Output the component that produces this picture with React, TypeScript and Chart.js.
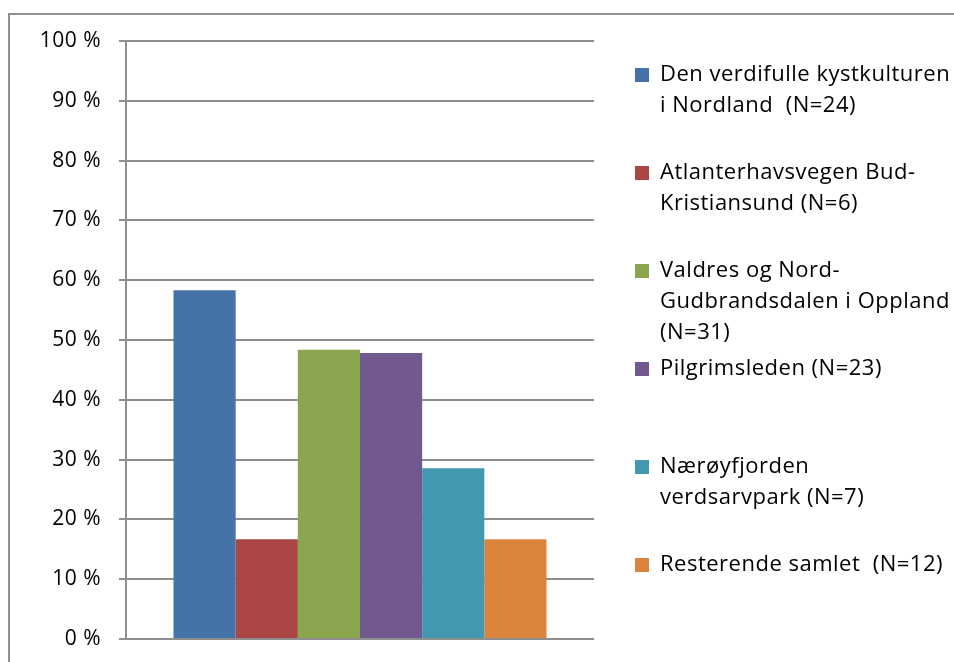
import React, { useEffect, useRef } from "react";
import { Chart, registerables } from "chart.js";

Chart.register(...registerables);

const CATEGORIES = [""];
const SERIES_LABELS = [
  "Den verdifulle kystkulturen i Nordland  (N=24)",
  "Atlanterhavsvegen Bud-Kristiansund (N=6)",
  "Valdres og Nord-Gudbrandsdalen i Oppland (N=31)",
  "Pilgrimsleden (N=23)",
  "Nærøyfjorden verdsarvpark (N=7)",
  "Resterende samlet  (N=12)",
];
const LEGEND_LINES = [
  ["Den verdifulle kystkulturen", "i Nordland  (N=24)", ""],
  ["Atlanterhavsvegen Bud-", "Kristiansund (N=6)", ""],
  ["Valdres og Nord-", "Gudbrandsdalen i Oppland", "(N=31)"],
  ["Pilgrimsleden (N=23)", "", ""],
  ["Nærøyfjorden", "verdsarvpark (N=7)", ""],
  ["Resterende samlet  (N=12)", ""],
];
const SERIES_VALUES = [58.33, 16.67, 48.39, 47.83, 28.57, 16.67];
const SERIES_COLORS = ["#4572A7", "#AA4643", "#89A54E", "#71588F", "#4198AF", "#DB843D"];
const Y_TICKS = [0, 10, 20, 30, 40, 50, 60, 70, 80, 90, 100];

const FONT = "'Open Sans', Lato, sans-serif";
const GRID = "#8e8e8e";
const LEGEND_WIDTH = 324;

const layoutPlugin = {
  id: "layoutFix",
  afterInit(chart: any) {
    (chart.ctx as any).letterSpacing = "0.5px";
  },
  beforeUpdate(chart: any) {
    (chart.ctx as any).letterSpacing = "0.5px";
  },
  beforeLayout(chart: any) {
    const lg = chart.legend;
    if (lg && !lg.__fixed) {
      const orig = lg.fit.bind(lg);
      lg.fit = function () {
        orig();
        this.width = LEGEND_WIDTH;
      };
      lg.__fixed = true;
    }
  },
};

export default function App() {
  const ref = useRef<HTMLCanvasElement | null>(null);

  useEffect(() => {
    const canvas = ref.current;
    if (!canvas) return;
    const chart = new Chart(canvas, {
      type: "bar",
      data: {
        labels: CATEGORIES,
        datasets: SERIES_VALUES.map((v, i) => ({
          label: SERIES_LABELS[i],
          data: [v],
          backgroundColor: SERIES_COLORS[i],
          borderWidth: 0,
          categoryPercentage: 0.797,
          barPercentage: 1,
        })),
      },
      plugins: [layoutPlugin],
      options: {
        responsive: false,
        animation: false,
        devicePixelRatio: 1,
        layout: { padding: { top: 26, bottom: 8, left: 0, right: 0 } },
        plugins: {
          tooltip: { enabled: false },
          legend: {
            position: "right",
            align: "center",
            labels: {
              boxWidth: 14,
              boxHeight: 14,
              padding: 5,
              color: "#000",
              font: { family: FONT, size: 22, lineHeight: 31 / 22 },
              generateLabels: (c: any) => {
                const items = Chart.defaults.plugins.legend.labels.generateLabels(c);
                return items.map((it: any, i: number) => ({
                  ...it,
                  text: LEGEND_LINES[i],
                  lineWidth: 0,
                  strokeStyle: "rgba(0,0,0,0)",
                }));
              },
            },
          },
        },
        scales: {
          x: {
            type: "category",
            display: false,
          },
          y: {
            type: "linear",
            min: 0,
            max: 100,
            afterFit: (s: any) => {
              s.width = 116;
              s.paddingTop = 0;
              s.paddingBottom = 0;
            },
            afterBuildTicks: (s: any) => {
              s.ticks = Y_TICKS.map((v) => ({ value: v }));
            },
            grid: {
              color: GRID,
              lineWidth: 2,
              tickLength: 7,
              drawTicks: true,
            },
            border: { display: true, color: GRID, width: 2 },
            ticks: {
              color: "#000",
              padding: 18,
              font: { family: FONT, size: 21 },
              callback: (v: any) => `${v} %`,
            },
          },
          yR: {
            type: "linear",
            position: "right",
            display: true,
            grid: { display: false },
            border: { display: false },
            ticks: { display: false },
            afterFit: (s: any) => {
              s.width = 36;
            },
          },
        },
      },
    } as any);
    return () => chart.destroy();
  }, []);

  return (
    <div
      style={{
        position: "fixed",
        left: 8,
        top: 13,
        width: 946,
        height: 649,
        boxSizing: "border-box",
        borderTop: "2px solid #8f8f8f",
        borderLeft: "2px solid #8f8f8f",
      }}
    >
      <canvas ref={ref} width={944} height={632} style={{ display: "block" }} />
    </div>
  );
}
